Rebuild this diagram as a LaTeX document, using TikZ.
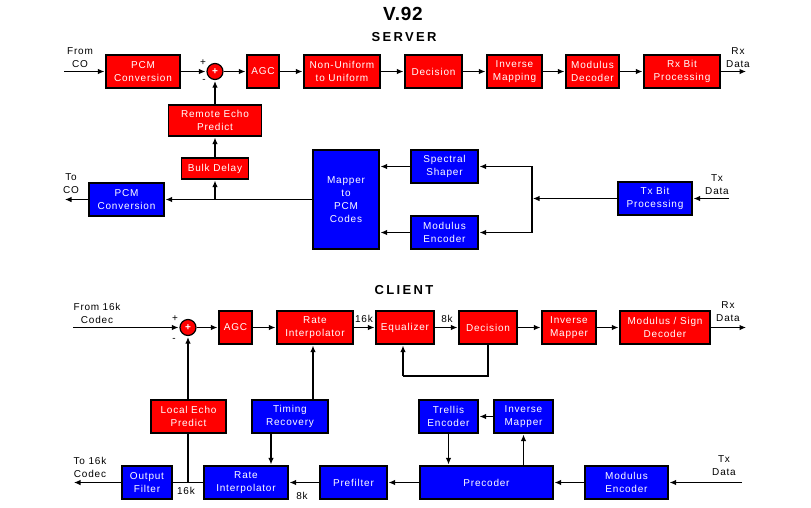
\documentclass[tikz,border=0pt]{standalone}
\usepackage{fontspec}
\setmainfont{Liberation Sans}[LetterSpace=8]
\usetikzlibrary{arrows.meta}
\begin{document}
\begin{tikzpicture}[x=1pt,y=-1pt,
  blk/.style={draw=black, line width=1.2pt, text=white, align=center, inner sep=0pt, font=\fontsize{10}{13}\selectfont},
  rb/.style={blk, fill=red},
  bb/.style={blk, fill=blue},
  sz/.style 2 args={minimum width=#1pt, minimum height=#2pt},
  wire/.style={line width=1.1pt},
  arr/.style={wire, -{Latex[length=6.5pt,width=5.5pt]}, shorten >=1pt},
  lbl/.style={align=center, inner sep=0pt, font=\fontsize{10}{13}\selectfont},
  sgn/.style={inner sep=0pt, font=\fontsize{10}{10}\selectfont},
  ttl/.style={inner sep=0pt, font=\bfseries\fontsize{13}{13}\selectfont\addfontfeature{LetterSpace=18}},
  sumc/.style={circle, draw=black, line width=1.2pt, fill=red, minimum size=16pt, inner sep=0pt, text=white, font=\bfseries\fontsize{10}{10}\selectfont}
]
\useasboundingbox[fill=white] (0,0) rectangle (811,507);

% titles
\node[inner sep=0pt, font=\bfseries\fontsize{19}{19}\selectfont\addfontfeature{LetterSpace=4}] (t1) at (403,14) {V.92};
\node[ttl] (t2) at (404,37) {SERVER};
\node[ttl] (t3) at (404,290) {CLIENT};

% ---------------- SERVER ----------------
\node[rb, sz={74}{33}] (pcm1) at (143,71.5) {PCM\\Conversion};
\node[sumc] (sum1) at (215,71.5) {+};
\node[rb, sz={32}{33}] (agc1) at (263,71.5) {AGC};
\node[rb, sz={76}{33}] (nu) at (342,71.5) {Non-Uniform\\to Uniform};
\node[rb, sz={57}{33}] (dec1) at (433.5,71.5) {Decision};
\node[rb, sz={55}{33}] (im1) at (514.5,71.5) {Inverse\\Mapping};
\node[rb, sz={53}{33}] (md1) at (592.5,71.5) {Modulus\\Decoder};
\node[rb, sz={76}{33}] (rxb) at (682,71.5) {Rx Bit\\Processing};
\node[rb, sz={93}{31}] (rep) at (215,120.5) {Remote Echo\\Predict};
\node[rb, sz={67}{21}] (bulk) at (215,168.5) {Bulk Delay};
\node[bb, sz={75}{33}] (pcm2) at (126.5,199.5) {PCM\\Conversion};
\node[bb, sz={66}{99}] (mapper) at (346,199.5) {Mapper\\to\\PCM\\Codes};
\node[bb, sz={67}{33}] (ss) at (444.5,166.5) {Spectral\\Shaper};
\node[bb, sz={67}{33}] (me1) at (444.5,232.5) {Modulus\\Encoder};
\node[bb, sz={74}{33}] (txb) at (655,198.5) {Tx Bit\\Processing};

\node[lbl] (l1) at (80,57.5) {From\\CO};
\node[lbl] (l2) at (738,57.5) {Rx\\Data};
\node[lbl] (l3) at (71,184) {To\\CO};
\node[lbl] (l4) at (717,185) {Tx\\Data};
\node[sgn] (s1) at (203,63) {+};
\node[sgn] (s2) at (204,81) {-};

\coordinate (srvin) at (64,71.5);
\coordinate (srvout) at (747,71.5);
\coordinate (tap) at (215,199.5);
\coordinate (toco) at (64,199.5);
\coordinate (jn) at (532,198.5);
\coordinate (txin) at (729,198.5);

\draw[arr] (srvin) -- (pcm1);
\draw[arr] (pcm1) -- (sum1);
\draw[arr] (sum1) -- (agc1);
\draw[arr] (agc1) -- (nu);
\draw[arr] (nu) -- (dec1);
\draw[arr] (dec1) -- (im1);
\draw[arr] (im1) -- (md1);
\draw[arr] (md1) -- (rxb);
\draw[arr] (rxb) -- (srvout);
\draw[arr] (rep) -- (sum1);
\draw[arr] (bulk) -- (rep);
\draw[arr] (mapper) -- (pcm2);
\draw[arr] (tap) -- (bulk);
\draw[arr] (pcm2) -- (toco);
\draw[arr] (ss.west) -- (mapper.east |- ss.west);
\draw[arr] (me1.west) -- (mapper.east |- me1.west);
\draw[arr] (txb) -- (jn);
\draw[arr] (jn) |- (ss.east);
\draw[arr] (jn) |- (me1.east);
\draw[arr] (txin) -- (txb);

% ---------------- CLIENT ----------------
\node[sumc] (sum2) at (188,327.5) {+};
\node[rb, sz={33}{33}] (agc2) at (235.5,327.5) {AGC};
\node[rb, sz={76}{33}] (ri1) at (315,327.5) {Rate\\Interpolator};
\node[rb, sz={58}{33}] (eq) at (405,327.5) {Equalizer};
\node[rb, sz={58}{33}] (dec2) at (488,327.5) {Decision};
\node[rb, sz={54}{33}] (im2) at (569,327.5) {Inverse\\Mapper};
\node[rb, sz={90}{33}] (msd) at (665,327.5) {Modulus / Sign\\Decoder};
\node[rb, sz={75}{33}] (lep) at (188.5,416.5) {Local Echo\\Predict};
\node[bb, sz={76}{33}] (tr) at (290,416.5) {Timing\\Recovery};
\node[bb, sz={59}{33}] (te) at (448.5,416.5) {Trellis\\Encoder};
\node[bb, sz={59}{33}] (im3) at (523.5,416.5) {Inverse\\Mapper};
\node[bb, sz={50}{33}] (of) at (147,482.5) {Output\\Filter};
\node[bb, sz={84}{33}] (ri2) at (246,482.5) {Rate\\Interpolator};
\node[bb, sz={67}{33}] (pf) at (353.5,482.5) {Prefilter};
\node[bb, sz={133}{33}] (pc) at (486.5,482.5) {Precoder};
\node[bb, sz={83}{33}] (me2) at (626.5,482.5) {Modulus\\Encoder};

\node[lbl] (l5) at (97,313.5) {From\,\,16k\\Codec};
\node[lbl] (l6) at (728,312) {Rx\\Data};
\node[lbl] (l7) at (90,467) {To 16k\\Codec};
\node[lbl] (l8) at (724,465.5) {Tx\\Data};
\node[lbl] (k1) at (364,318.5) {16k};
\node[lbl] (k2) at (447,318.5) {8k};
\node[lbl] (k3) at (186,491) {16k};
\node[lbl] (k4) at (302,496) {8k};
\node[sgn] (s3) at (175,319) {+};
\node[sgn] (s4) at (174,340) {-};

\coordinate (clin) at (73,327.5);
\coordinate (clout) at (747,327.5);
\coordinate (fb1) at (488,376);
\coordinate (fb2) at (403,376);
\coordinate (echo) at (188,482.5);
\coordinate (clto) at (73,482.5);
\coordinate (cltx) at (742,482.5);

\draw[arr] (clin) -- (sum2);
\draw[arr] (sum2) -- (agc2);
\draw[arr] (agc2) -- (ri1);
\draw[arr] (ri1) -- (eq);
\draw[arr] (eq) -- (dec2);
\draw[arr] (dec2) -- (im2);
\draw[arr] (im2) -- (msd);
\draw[arr] (msd) -- (clout);
\draw[wire] (dec2.south) -- (fb1) -- (fb2);
\draw[arr] (fb2) -- (eq.south -| fb2);
\draw[arr] (lep.north -| sum2) -- (sum2);
\draw[wire] (lep.south -| echo) -- (echo);
\draw[arr] (tr.north -| 313,0) -- (ri1.south -| 313,0);
\draw[arr] (tr.south -| 271,0) -- (ri2.north -| 271,0);
\draw[wire] (ri2) -- (of);
\draw[arr] (of) -- (clto);
\draw[arr] (pf) -- (ri2);
\draw[arr] (pc) -- (pf);
\draw[arr] (me2) -- (pc);
\draw[arr] (cltx) -- (me2);
\draw[arr] (te.south) -- (pc.north -| te.south);
\draw[arr] (pc.north -| im3.south) -- (im3.south);
\draw[arr] (im3) -- (te);
\end{tikzpicture}
\end{document}
